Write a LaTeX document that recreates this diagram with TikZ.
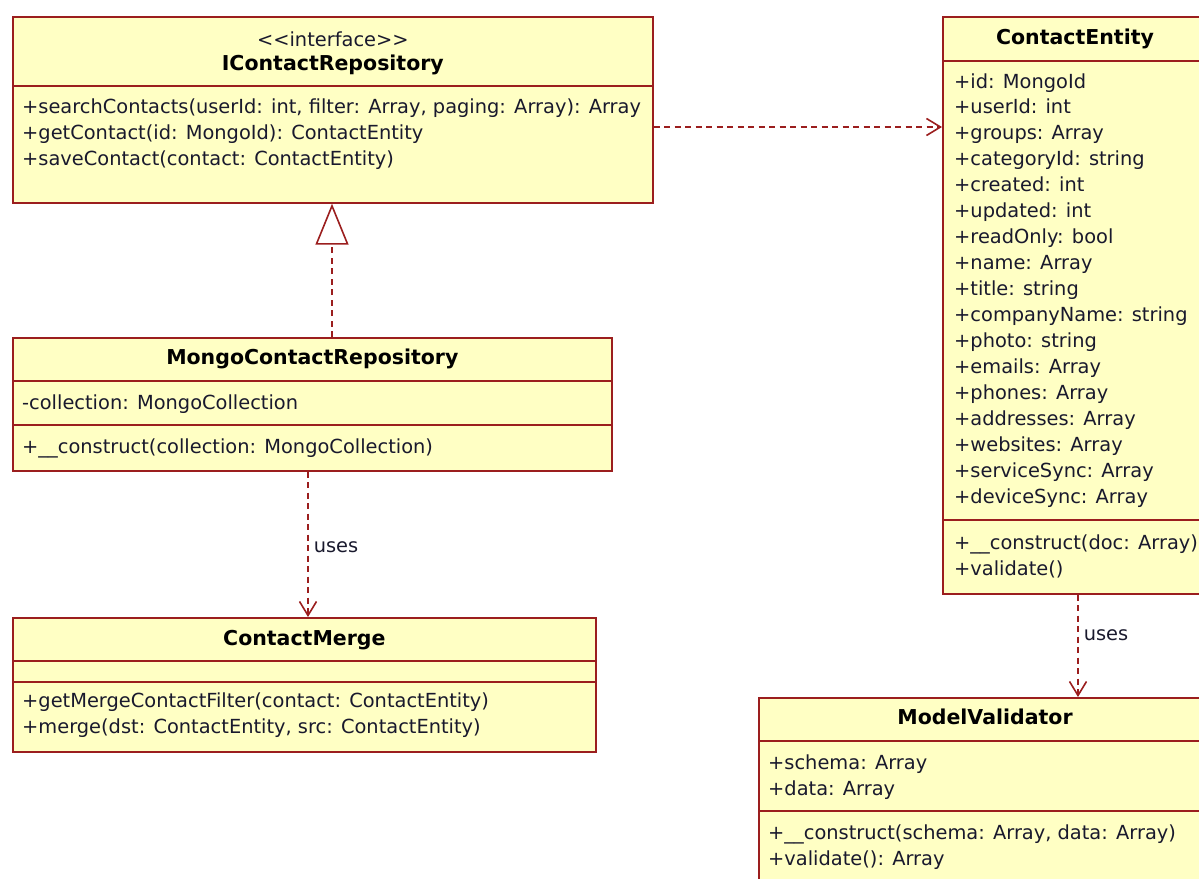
\documentclass[tikz,border=0pt]{standalone}
\usepackage{fontspec}
\setmainfont{DejaVu Sans}
\usetikzlibrary{arrows.meta}

\definecolor{umlline}{RGB}{155,30,30}
\definecolor{umlfill}{RGB}{255,255,196}
\definecolor{umltext}{RGB}{25,25,45}

\tikzset{
  classbox/.style={draw=umlline, fill=umlfill, line width=1.7pt, anchor=north west, inner sep=0pt},
  divider/.style={draw=umlline, line width=1.7pt},
  member/.style={anchor=base west, inner sep=0pt, text=umltext, font=\fontsize{19.4}{23}\selectfont},
  classname/.style={anchor=base, inner sep=0pt, text=black, font=\fontsize{20.5}{24}\selectfont\bfseries},
  stereo/.style={anchor=base, inner sep=0pt, text=umltext, font=\fontsize{19.4}{23}\selectfont},
  useslabel/.style={anchor=west, inner sep=0pt, xshift=5pt, text=umltext, font=\fontsize{19.4}{23}\selectfont},
  depend/.style={draw=umlline, line width=1.6pt, dash pattern=on 6pt off 4.5pt, -{Straight Barb[length=14pt,width=17pt]}},
  realize/.style={draw=umlline, line width=1.6pt, dash pattern=on 6pt off 4.5pt, -{Triangle[length=41pt,width=33pt,fill=white]}}
}

\begin{document}
\begin{tikzpicture}[x=1pt,y=-1pt]
\clip (0,0) rectangle (1199,878);

% interface
\node[classbox, minimum width=640pt, minimum height=186pt] (irepo) at (12,16) {};
\draw[divider] (irepo.west |- 0,86) -- (irepo.east |- 0,86);
\node[stereo] (irepo-st) at (irepo.north |- 0,46) {<{}<interface>{}>};
\node[classname] (irepo-name) at (irepo.north |- 0,70) {IContactRepository};
\foreach \txt [count=\i from 0] in {{+searchContacts(userId: int, filter: Array, paging: Array): Array},
    {+getContact(id: MongoId): ContactEntity}, {+saveContact(contact: ContactEntity)}}
  \node[member] (irepo-op\i) at (22,{113+26*\i}) {\txt};

% entity
\node[classbox, minimum width=268pt, minimum height=577pt] (entity) at (942,16) {};
\draw[divider] (entity.west |- 0,61) -- (entity.east |- 0,61);
\draw[divider] (entity.west |- 0,520) -- (entity.east |- 0,520);
\node[classname] (entity-name) at (1075,44) {ContactEntity};
\foreach \txt [count=\i from 0] in {+id: MongoId, +userId: int, +groups: Array, +categoryId: string,
    +created: int, +updated: int, +readOnly: bool, +name: Array, +title: string,
    +companyName: string, +photo: string, +emails: Array, +phones: Array,
    +addresses: Array, +websites: Array, +serviceSync: Array, +deviceSync: Array}
  \node[member] (entity-at\i) at (954,{88+25.95*\i}) {\txt};
\node[member] (entity-op0) at (954,549) {+\_\_construct(doc: Array)};
\node[member] (entity-op1) at (954,575) {+validate()};

% mongo repository
\node[classbox, minimum width=599pt, minimum height=133pt] (mongorepo) at (12,337) {};
\draw[divider] (mongorepo.west |- 0,381) -- (mongorepo.east |- 0,381);
\draw[divider] (mongorepo.west |- 0,425) -- (mongorepo.east |- 0,425);
\node[classname] (mongorepo-name) at (mongorepo.north |- 0,364) {MongoContactRepository};
\node[member] (mongorepo-at0) at (22,409) {-collection: MongoCollection};
\node[member] (mongorepo-op0) at (22,453) {+\_\_construct(collection: MongoCollection)};

% merge
\node[classbox, minimum width=583pt, minimum height=134pt] (merge) at (12,617) {};
\draw[divider] (merge.west |- 0,661) -- (merge.east |- 0,661);
\draw[divider] (merge.west |- 0,682) -- (merge.east |- 0,682);
\node[classname] (merge-name) at (merge.north |- 0,645) {ContactMerge};
\node[member] (merge-op0) at (22,707) {+getMergeContactFilter(contact: ContactEntity)};
\node[member] (merge-op1) at (22,733) {+merge(dst: ContactEntity, src: ContactEntity)};

% validator
\node[classbox, minimum width=454pt, minimum height=190pt] (validator) at (758,697) {};
\draw[divider] (validator.west |- 0,741) -- (validator.east |- 0,741);
\draw[divider] (validator.west |- 0,811) -- (validator.east |- 0,811);
\node[classname] (validator-name) at (985,724) {ModelValidator};
\node[member] (validator-at0) at (768,769) {+schema: Array};
\node[member] (validator-at1) at (768,795) {+data: Array};
\node[member] (validator-op0) at (768,839) {+\_\_construct(schema: Array, data: Array)};
\node[member] (validator-op1) at (768,865) {+validate(): Array};

% relations
\draw[depend] (irepo.east |- 0,127) -- (entity.west |- 0,127);
\draw[realize] (mongorepo.north -| 332,0) -- (irepo.south -| 332,0);
\draw[depend] (mongorepo.south -| 308,0) -- node[useslabel, pos=0.52] {uses} (merge.north -| 308,0);
\draw[depend] (entity.south -| 1078,0) -- node[useslabel, pos=0.40] {uses} (validator.north -| 1078,0);

\end{tikzpicture}
\end{document}
